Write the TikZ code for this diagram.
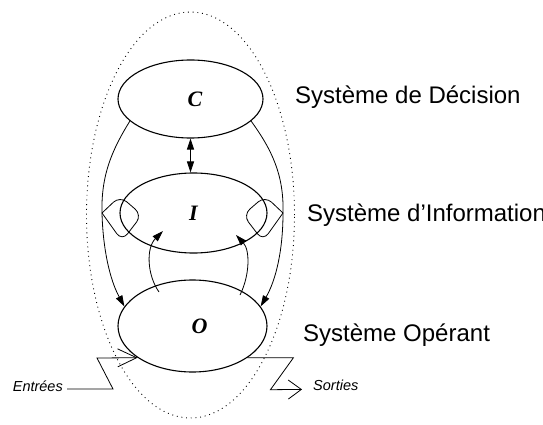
\documentclass[tikz,border=0pt]{standalone}
\usepackage{fontspec}
\setmainfont{Liberation Sans}
\newfontfamily\letfont{Liberation Serif}
\usetikzlibrary{arrows.meta,shapes.geometric,calc}
\begin{document}
\begin{tikzpicture}[x=1pt,y=-1pt,
  sys/.style={draw, ellipse, line width=1.1pt, inner sep=0pt,
    font=\letfont\fontsize{22}{22}\selectfont\bfseries\itshape},
  flow/.style={line width=0.8pt, -{Triangle[length=11pt,width=7pt]}},
  both/.style={line width=0.8pt, {Triangle[length=11pt,width=7pt]}-{Triangle[length=11pt,width=7pt]}},
  loopline/.style={line width=0.8pt, rounded corners=9pt},
  io/.style={line width=0.8pt},
  lbl/.style={font=\fontsize{24}{24}\selectfont, inner sep=0pt, anchor=base west},
  iolbl/.style={font=\fontsize{14.5}{14.5}\selectfont\itshape, inner sep=0pt},
  env/.style={line width=0.9pt, dash pattern=on 0.9pt off 3.8pt},
]
\useasboundingbox (0,0) rectangle (543,425);

% environment boundary
\draw[env] (190.5,215) ellipse [x radius=104pt, y radius=203pt];

% subsystems
\node[sys, minimum width=145pt, minimum height=78pt] (C) at (190.5,99) {\hspace*{9pt}C};
\node[sys, minimum width=147pt, minimum height=80pt] (I) at (193.5,213) {I};
\node[sys, minimum width=149pt, minimum height=92pt] (O) at (192.5,326) {\hspace*{14pt}O};

% labels
\node[lbl] (lC) at (295,103.3) {Système de Décision};
\node[lbl] (lI) at (307,221.7) {Système d’Information};
\node[lbl] (lO) at (303,341) {Système Opérant};

% C <-> I
\draw[both] (C.south) -- (C.south |- I.north);

% decision flows C -> O
\coordinate (Lm) at (102,213);
\coordinate (Rm) at (283,213);
\draw[flow] (C.200) .. controls (112,150) and (101,175) .. (Lm)
  .. controls (103,250) and (110,280) .. (O.164);
\draw[flow] (C.340) .. controls (272,150) and (284,175) .. (Rm)
  .. controls (283,250) and (276,280) .. (O.16);

% capture loops into I
\draw[loopline] (Lm) -- (120,196) -- (142,215) -- (122,241) -- (Lm);
\draw[loopline] (Rm) -- (265,196) -- (243,215) -- (263,241) -- (Rm);

% O -> I feedback
\draw[flow] ($(O.center)+(-33.5,-34)$) .. controls (147,275) and (146,248) .. ($(I.center)+(-30.5,18)$);
\draw[flow] ($(O.center)+(47.5,-31)$) .. controls (250,275) and (250,250) .. ($(I.center)+(42.5,22)$);

% inputs / outputs
\node[iolbl, anchor=base east] (ent) at (63,391.7) {Entrées};
\node[iolbl, anchor=base west] (sor) at (313,390) {Sorties};
\coordinate (entree) at (67,389);
\coordinate (sortie) at (302,389.4);
\draw[io, -{Straight Barb[length=19pt,width=18pt]}] (entree) -- ++(46,0) -- ++(-16,-31) -- (O.210);
\draw[io, -{Straight Barb[length=13pt,width=19pt]}] (O.330) -- ++(46,0) -- ++(-23,32) -- (sortie);
\end{tikzpicture}
\end{document}
